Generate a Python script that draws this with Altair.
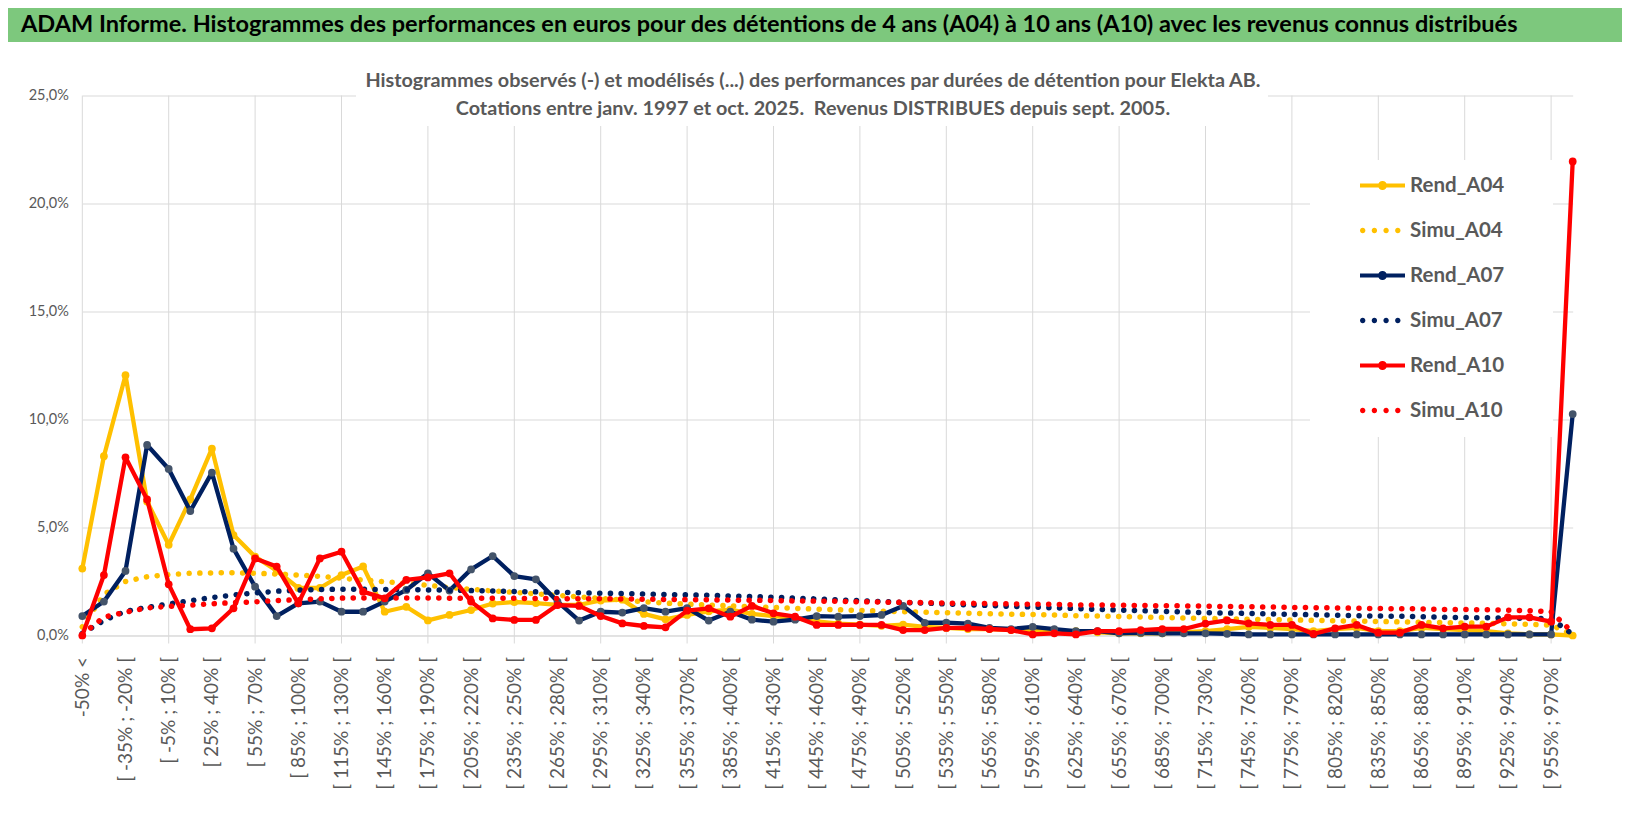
import altair as alt
import pandas as pd

# Categories (x axis)
cats = ["-50% <"] + [f"[ {a}% ; {a + 15}% [" for a in range(-50, 970, 15)] + ["> 970%"]

# Series values (%)
rend_a04 = [3.1, 8.3, 12.05, 6.2, 4.2, 6.3, 8.65, 4.65, 3.65, 3.0,
            2.2, 2.2, 2.8, 3.2, 1.1, 1.33, 0.7, 0.95, 1.18, 1.48,
            1.55, 1.5, 1.42, 1.42, 1.62, 1.66, 1.0, 0.75, 0.95, 1.12,
            1.2, 1.0, 0.9, 0.8, 0.65, 0.55, 0.5, 0.45, 0.5, 0.4,
            0.35, 0.3, 0.3, 0.25, 0.2, 0.2, 0.2, 0.15, 0.1, 0.1,
            0.1, 0.15, 0.2, 0.3, 0.4, 0.35, 0.3, 0.2, 0.3, 0.35,
            0.2, 0.2, 0.35, 0.3, 0.25, 0.2, 0.1, 0.05, 0.05, 0.0]
simu_a04 = [0.4, 1.9, 2.5, 2.72, 2.82, 2.88, 2.9, 2.9, 2.88, 2.85,
            2.8, 2.74, 2.65, 2.57, 2.49, 2.42, 2.32, 2.22, 2.14, 2.06,
            2.0, 1.93, 1.86, 1.79, 1.72, 1.65, 1.56, 1.5, 1.45, 1.41,
            1.37, 1.33, 1.3, 1.26, 1.22, 1.19, 1.16, 1.13, 1.1, 1.08,
            1.06, 1.03, 1.01, 0.99, 0.97, 0.95, 0.92, 0.9, 0.88, 0.86,
            0.83, 0.81, 0.79, 0.77, 0.75, 0.74, 0.72, 0.7, 0.68, 0.67,
            0.65, 0.63, 0.61, 0.6, 0.58, 0.56, 0.54, 0.52, 0.48, 0.05]
rend_a07 = [0.9, 1.57, 2.99, 8.82, 7.71, 5.76, 7.54, 4.02, 2.26, 0.9,
            1.49, 1.57, 1.1, 1.1, 1.57, 2.11, 2.88, 2.08, 3.06, 3.68,
            2.75, 2.6, 1.57, 0.69, 1.1, 1.06, 1.27, 1.1, 1.27, 0.69,
            1.1, 0.73, 0.64, 0.73, 0.9, 0.87, 0.9, 0.95, 1.37, 0.59,
            0.6, 0.55, 0.35, 0.3, 0.4, 0.3, 0.2, 0.2, 0.1, 0.12,
            0.1, 0.1, 0.1, 0.08, 0.05, 0.05, 0.05, 0.05, 0.05, 0.05,
            0.05, 0.05, 0.05, 0.05, 0.05, 0.05, 0.05, 0.05, 0.05, 10.25]
simu_a07 = [0.1, 0.7, 1.12, 1.3, 1.46, 1.61, 1.76, 1.87, 1.97, 2.05,
            2.1, 2.13, 2.14, 2.14, 2.13, 2.12, 2.11, 2.1, 2.08, 2.06,
            2.04, 2.02, 2.0, 1.98, 1.96, 1.94, 1.92, 1.9, 1.88, 1.86,
            1.83, 1.8, 1.77, 1.73, 1.69, 1.65, 1.61, 1.57, 1.53, 1.5,
            1.46, 1.42, 1.39, 1.35, 1.32, 1.28, 1.25, 1.21, 1.18, 1.15,
            1.12, 1.09, 1.06, 1.04, 1.02, 1.0, 0.98, 0.96, 0.94, 0.92,
            0.9, 0.89, 0.87, 0.85, 0.83, 0.82, 0.8, 0.8, 0.78, 0.05]
rend_a10 = [0.0, 2.8, 8.25, 6.3, 2.37, 0.29, 0.33, 1.26, 3.57, 3.19,
            1.49, 3.57, 3.88, 2.03, 1.72, 2.57, 2.69, 2.88, 1.57, 0.79,
            0.72, 0.72, 1.41, 1.37, 0.9, 0.56, 0.44, 0.38, 1.15, 1.26,
            0.87, 1.37, 1.03, 0.87, 0.49, 0.49, 0.49, 0.49, 0.25, 0.25,
            0.35, 0.35, 0.3, 0.25, 0.05, 0.1, 0.05, 0.2, 0.2, 0.25,
            0.3, 0.3, 0.55, 0.7, 0.56, 0.49, 0.49, 0.07, 0.33, 0.49,
            0.13, 0.13, 0.49, 0.33, 0.41, 0.41, 0.84, 0.84, 0.64, 21.95]
simu_a10 = [0.05, 0.85, 1.08, 1.28, 1.35, 1.4, 1.47, 1.52, 1.56, 1.62,
            1.66, 1.7, 1.73, 1.74, 1.74, 1.74, 1.74, 1.73, 1.73, 1.72,
            1.72, 1.71, 1.71, 1.7, 1.7, 1.69, 1.68, 1.67, 1.66, 1.65,
            1.64, 1.63, 1.62, 1.6, 1.59, 1.58, 1.56, 1.55, 1.53, 1.52,
            1.5, 1.49, 1.48, 1.46, 1.45, 1.44, 1.42, 1.41, 1.4, 1.39,
            1.38, 1.37, 1.36, 1.34, 1.33, 1.32, 1.3, 1.29, 1.28, 1.26,
            1.25, 1.24, 1.23, 1.21, 1.2, 1.19, 1.17, 1.15, 1.1, 0.14]

names = ["Rend_A04", "Simu_A04", "Rend_A07", "Simu_A07", "Rend_A10", "Simu_A10"]
colors = ["#FFC000", "#FFC000", "#002060", "#002060", "#FF0000", "#FF0000"]
marker_colors = {"Rend_A04": "#FFC000", "Rend_A07": "#44546A", "Rend_A10": "#FF0000"}
series_vals = [rend_a04, simu_a04, rend_a07, simu_a07, rend_a10, simu_a10]

TITLE = ("ADAM Informe. Histogrammes des performances en euros pour des détentions "
         "de 4 ans (A04) à 10 ans (A10) avec les revenus connus distribués")
SUB1 = ("Histogrammes observés (-) et modélisés (...) des performances par durées "
        "de détention pour Elekta AB.")
SUB2 = "Cotations entre janv. 1997 et oct. 2025.\u00a0 Revenus DISTRIBUES depuis sept. 2005."

rows = []
for name, vals in zip(names, series_vals):
    for c, v in zip(cats, vals):
        rows.append({"cat": c, "series": name, "val": v})
df = pd.DataFrame(rows)

# geometry of the plot area
W = 1490.4
H = 540
PL, PT = 74.3, 87.5
PR = 1614 - W - PL
PB = 799 - H - PT
OX, OY = PL + 8, PT + 8  # page position of plot origin

FONT = "Lato"
GRAY = "#595959"
GRID = "#D9D9D9"

x_enc = alt.X(
    "cat:O",
    scale=alt.Scale(type="point", domain=cats, padding=0),
    axis=alt.Axis(values=cats[::2], labelAngle=-90, labelPadding=21, ticks=False,
                  grid=False, domain=True, domainColor=GRID, labelFont=FONT,
                  labelFontSize=19, labelColor=GRAY, title=None, labelOverlap=False),
)
y_enc = alt.Y(
    "val:Q",
    scale=alt.Scale(domain=[0, 25], nice=False),
    axis=alt.Axis(values=[0, 5, 10, 15, 20, 25],
                  labelExpr="replace(format(datum.value, '.1f'), '.', ',') + '%'",
                  grid=True, gridColor=GRID, domain=False, ticks=False,
                  labelPadding=14, labelFont=FONT, labelFontSize=14.5,
                  labelColor=GRAY, title=None),
)

one = pd.DataFrame({"k": [0]})

vgrid = alt.Chart(pd.DataFrame({"cat": cats[::4]})).mark_rule(
    color=GRID, strokeWidth=1).encode(x=x_enc, y=alt.value(0), y2=alt.value(H + 8))

sub_box = alt.Chart(one).mark_rect(color="white").encode(
    x=alt.value(356 - OX), x2=alt.value(1268 - OX),
    y=alt.value(62 - OY), y2=alt.value(126 - OY))
leg_box = alt.Chart(one).mark_rect(color="white").encode(
    x=alt.value(1310 - OX), x2=alt.value(1553 - OX),
    y=alt.value(160 - OY), y2=alt.value(437 - OY))

layers = [vgrid, sub_box, leg_box]
for name, col in zip(names, colors):
    base = alt.Chart(df).transform_filter(alt.datum.series == name)
    if name.startswith("Rend"):
        m = base.mark_line(color=col, strokeWidth=4.3, strokeJoin="round", strokeCap="round",
                           point=alt.OverlayMarkDef(filled=True, size=60, opacity=1,
                                                    color=marker_colors[name]))
    else:
        m = base.mark_line(color=col, strokeWidth=5.5, strokeDash=[0.1, 10.6],
                           strokeCap="round")
    layers.append(m.encode(x=x_enc, y=y_enc))


def circ(cx, r):
    return f"M{cx + r},0A{r},{r},0,1,1,{cx - r},0A{r},{r},0,1,1,{cx + r},0Z"


rend_path = "M-1,-0.09H1V0.09H-1Z" + circ(0, 0.2)
simu_path = "".join(circ(c, 0.12) for c in [-0.88, -0.36, 0.16, 0.68])
shapes = [rend_path if n.startswith("Rend") else simu_path for n in names]

legend = alt.Legend(orient="none", legendX=1360 - OX, legendY=163 - OY, title=None,
                    labelFont=FONT, labelFontWeight="bold", labelFontSize=20.5,
                    labelColor=GRAY, symbolSize=2025, symbolStrokeWidth=0,
                    rowPadding=12, padding=0, labelOffset=5)
leg_layer = alt.Chart(df).transform_filter("datum.val < -1000").mark_point(
    filled=True, opacity=1).encode(
    x=x_enc, y=y_enc,
    color=alt.Color("series:N", scale=alt.Scale(domain=names, range=colors), legend=legend),
    shape=alt.Shape("series:N", scale=alt.Scale(domain=names, range=shapes), legend=legend),
)
layers.append(leg_layer)

bar = alt.Chart(one).mark_rect(color="#7DC87D").encode(
    x=alt.value(-PL), x2=alt.value(W + PR), y=alt.value(-PT), y2=alt.value(42 - OY))
title = alt.Chart(one).mark_text(align="left", baseline="middle", font=FONT, fontSize=23.5,
                                 fontWeight="bold", color="black").encode(
    x=alt.value(21 - OX), y=alt.value(25 - OY), text=alt.value(TITLE))
sub1 = alt.Chart(one).mark_text(align="center", baseline="middle", font=FONT, fontSize=19.8,
                                fontWeight="bold", color=GRAY).encode(
    x=alt.value(813 - OX), y=alt.value(81 - OY), text=alt.value(SUB1))
sub2 = alt.Chart(one).mark_text(align="center", baseline="middle", font=FONT, fontSize=19.8,
                                fontWeight="bold", color=GRAY).encode(
    x=alt.value(813 - OX), y=alt.value(109 - OY), text=alt.value(SUB2))
layers += [bar, title, sub1, sub2]

chart = alt.layer(*layers).properties(
    width=W, height=H,
    padding={"left": PL, "top": PT, "right": PR, "bottom": PB},
    autosize=alt.AutoSizeParams(type="none"),
    background="white",
).configure_view(stroke=None)

chart.save("out.html", embed_options={"renderer": "svg", "actions": False})
